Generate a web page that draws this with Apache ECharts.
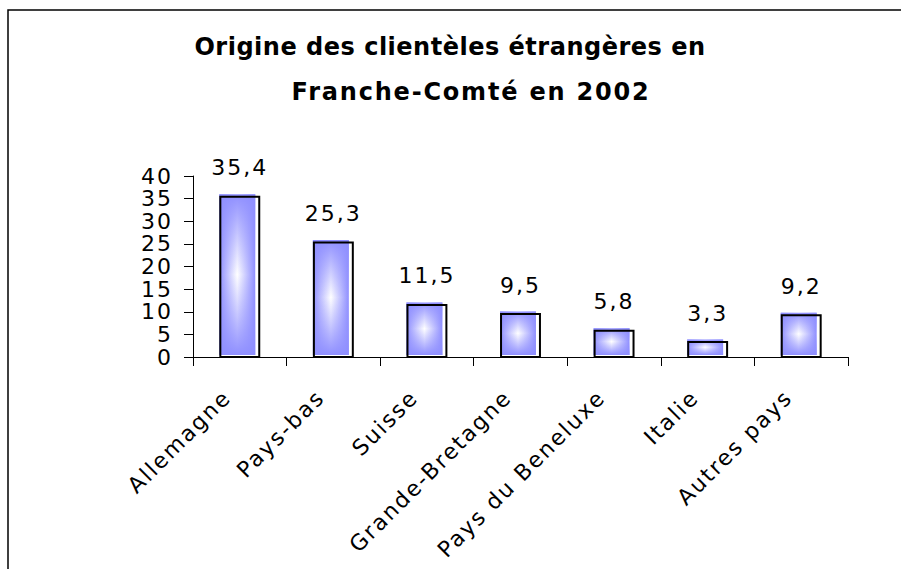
<!DOCTYPE html>
<html><head><meta charset="utf-8">
<script src="https://cdn.jsdelivr.net/npm/echarts@6/dist/echarts.min.js"></script>
<style>
html,body{margin:0;padding:0;background:#fff}
#main{width:901px;height:569px}
#main text{letter-spacing:2px}
</style></head><body><div id="main"></div>
<script>
const titleLines = ['Origine des clientèles étrangères en', 'Franche-Comté en 2002'];
const categories = ['Allemagne', 'Pays-bas', 'Suisse', 'Grande-Bretagne', 'Pays du Beneluxe', 'Italie', 'Autres pays'];
const values = [35.4, 25.3, 11.5, 9.5, 5.8, 3.3, 9.2];
const yMin = 0, yMax = 40, yStep = 5;

const FONT = '"DejaVu Sans", sans-serif';
const BLUE = '#8f8fff';
const chart = echarts.init(document.getElementById('main'), null, {renderer: 'svg'});

function fmt(v) { return String(v).replace('.', ','); }

chart.setOption({
  backgroundColor: '#fff',
  animation: false,
  grid: {left: 193, right: 53, top: 176, bottom: 212, containLabel: false},
  graphic: [
    {type: 'rect', shape: {x: 8, y: 10, width: 1000, height: 1000}, style: {fill: 'none', stroke: '#000', lineWidth: 1.5}, z: 0},
    {type: 'text', x: 450, y: 47, style: {text: titleLines[0], font: 'bold 24px ' + FONT, fill: '#000', textAlign: 'center', textVerticalAlign: 'middle'}},
    {type: 'text', x: 471, y: 92, style: {text: titleLines[1], font: 'bold 24px ' + FONT, fill: '#000', textAlign: 'center', textVerticalAlign: 'middle'}}
  ],
  xAxis: {
    type: 'category',
    data: categories,
    boundaryGap: true,
    axisLine: {show: true, lineStyle: {color: '#000', width: 1}},
    axisTick: {show: true, length: 9, lineStyle: {color: '#000'}},
    axisLabel: {interval: 0, rotate: 45, fontSize: 22, fontFamily: FONT, color: '#000', margin: 24, padding: [0, 18, 0, 0]},
    splitLine: {show: false}
  },
  yAxis: {
    type: 'value',
    min: yMin, max: yMax, interval: yStep,
    axisLine: {show: true, lineStyle: {color: '#000', width: 1}},
    axisTick: {show: true, length: 9, lineStyle: {color: '#000'}},
    axisLabel: {fontSize: 22, fontFamily: FONT, color: '#000', margin: 20},
    splitLine: {show: false}
  },
  series: [{
    type: 'custom',
    data: values.map((v, i) => [i, v]),
    encode: {x: 0, y: 1},
    renderItem: function (params, api) {
      const i = api.value(0), v = api.value(1);
      const base = api.coord([i, 0]);
      const top = api.coord([i, v]);
      const w = api.size([1, 0])[0] * 0.416;
      const x = top[0] - w / 2;
      const h = base[1] - top[1];
      const fx = x - 1, fy = top[1] - 2.5, fw = w - 3, fh = h + 0.5;
      return {
        type: 'group',
        children: [
          {type: 'rect', shape: {x: fx, y: fy, width: fw, height: fh},
            style: {fill: new echarts.graphic.LinearGradient(0, 0, 1, 0, [
              {offset: 0, color: BLUE}, {offset: 0.5, color: '#ffffff'}, {offset: 1, color: BLUE}])}},
          {type: 'rect', shape: {x: fx, y: fy, width: fw, height: fh},
            style: {fill: new echarts.graphic.LinearGradient(0, 0, 0, 1, [
              {offset: 0, color: 'rgba(143,143,255,1)'}, {offset: 0.5, color: 'rgba(143,143,255,0)'}, {offset: 1, color: 'rgba(143,143,255,1)'}])}},
          {type: 'rect', shape: {x: x, y: top[1], width: w, height: h},
            style: {fill: 'none', stroke: '#000', lineWidth: 2}},
          {type: 'text', x: top[0], y: top[1] - 29,
            style: {text: fmt(v), font: '22px ' + FONT, fill: '#000', textAlign: 'center', textVerticalAlign: 'middle'}}
        ]
      };
    }
  }]
});

// per-line letter spacing of the two title lines
document.querySelectorAll('#main text').forEach(function (t) {
  if (t.textContent === titleLines[0]) t.style.letterSpacing = '0.5px';
  if (t.textContent === titleLines[1]) t.style.letterSpacing = '1.8px';
});
</script></body></html>
